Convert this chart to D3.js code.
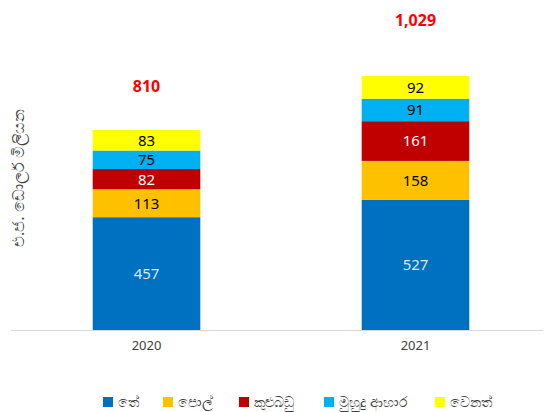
<!DOCTYPE html>
<html><head><meta charset="utf-8">
<script src="https://cdn.jsdelivr.net/npm/d3@7"></script>
<style>
body{margin:0;background:#fff;}
svg{display:block;font-family:"Noto Sans","Open Sans","DejaVu Sans",sans-serif;}
</style></head>
<body><svg id="c" width="544" height="412"></svg>
<script>
const years = ["2020", "2021"];
const seriesNames = ["තේ", "පොල්", "කුළුබඩු", "මුහුදු ආහාර", "වෙනත්"];
const seriesColors = ["#0070C0", "#FFC000", "#C00000", "#00B0F0", "#FFFF00"];
const labelColors = ["#DDE6F0", "#000000", "#FFFFFF", "#000000", "#000000"];
const tea = [457, 527];
const coconut = [113, 158];
const spices = [82, 161];
const seafood = [75, 91];
const other = [83, 92];
const totals = [810, 1029];
const totalLabels = ["810", "1,029"];
const yTitle = "එ.ජ. ඩොලර් මිලියන";

const svg = d3.select("#c");
const rows = years.map((y,i)=>({year:y, s0:tea[i], s1:coconut[i], s2:spices[i], s3:seafood[i], s4:other[i]}));
const keys = ["s0","s1","s2","s3","s4"];
const stack = d3.stack().keys(keys)(rows);

const x = d3.scaleBand().domain(years).range([12, 550]).paddingInner(0.6).paddingOuter(0.3);
const y = d3.scaleLinear().domain([0, 1029]).range([330, 76]);

// axis line
svg.append("line").attr("x1",11).attr("x2",543).attr("y1",330.5).attr("y2",330.5)
  .attr("stroke","#D9D9D9").attr("stroke-width",1);

const g = svg.append("g");
stack.forEach((layer, li) => {
  layer.forEach((d, i) => {
    g.append("rect")
      .attr("x", x(years[i])).attr("width", x.bandwidth())
      .attr("y", y(d[1])).attr("height", y(d[0]) - y(d[1]))
      .attr("fill", seriesColors[li]);
    g.append("text")
      .attr("x", x(years[i]) + x.bandwidth()/2)
      .attr("y", (y(d[0]) + y(d[1]))/2)
      .attr("dy", "0.36em")
      .attr("text-anchor","middle")
      .attr("font-size", 15)
      .attr("fill", labelColors[li])
      .text(d[1]-d[0]);
  });
});

// totals
years.forEach((yr,i)=>{
  svg.append("text")
    .attr("x", x(yr) + x.bandwidth()/2)
    .attr("y", y(totals[i] * 1.22))
    .attr("dy","0.36em")
    .attr("text-anchor","middle")
    .attr("font-size",16).attr("font-weight","bold")
    .attr("fill","#FF0000")
    .text(totalLabels[i]);
});

// x axis labels
const xAxis = d3.axisBottom(x).tickSize(0).tickPadding(0);
const ax = svg.append("g").attr("transform","translate(0,330)").call(xAxis);
ax.select(".domain").remove();
ax.selectAll("text").attr("font-size",13).attr("fill","#404040")
  .attr("font-family","'Noto Sans','Open Sans',sans-serif").attr("dy","1.5em");

// y title
svg.append("text")
  .attr("transform","translate(24,178) rotate(-90)")
  .attr("text-anchor","middle")
  .attr("font-size",16).attr("fill","#404040")
  .text(yTitle);

// legend
const legX = [103, 163, 239, 324, 435];
seriesNames.forEach((n,i)=>{
  svg.append("rect").attr("x",legX[i]).attr("y",397).attr("width",10).attr("height",10).attr("fill",seriesColors[i]);
  svg.append("text").attr("x",legX[i]+15).attr("y",402).attr("dy","0.36em")
    .attr("font-size",14).attr("fill","#404040").text(n);
});
</script></body></html>
